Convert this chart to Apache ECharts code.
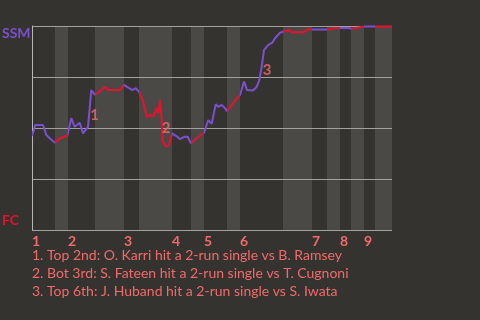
<!DOCTYPE html>
<html><head><meta charset="utf-8">
<script src="https://cdn.jsdelivr.net/npm/echarts@6/dist/echarts.min.js"></script>
<style>html,body{margin:0;padding:0;background:#353330;}#c{width:480px;height:320px;}</style>
</head><body><div id="c"></div>
<script>
// half-inning boundaries along the game-progress axis (top1, bot1, top2, ...)
const halfInningStarts = [0,23,36,63,92,107,140,159,172,195,208,251,280,295,308,319,332,343,360];
const inningLabels = ['1','2','3','4','5','6','7','8','9'];
const teamTop = 'SSM';
const teamBottom = 'FC';
// game progress and SSM win probability
const progress = [0,3.3,11,14.3,17.7,23,27.7,35.3,36,39.3,42.7,47.7,51,56,59.3,63,68,73,76.3,88,92,96.3,100.3,103.7,107,110.7,114.7,118,121.3,124.7,126.3,128,129.7,130.7,134.7,137,140,145.3,148,152.3,155.7,159,164.7,172,176.3,179.7,183.7,186.3,189.7,192.3,195,202.3,208,212,215,221,224.7,227.3,229.7,232,236.3,240.3,243,248,251,256.3,259.7,271.3,276.3,280,295,299.7,303,308,316.3,317.3,319.7,328,329.7,332,343,359,360];
const ssmWinProb = [0.461,0.515,0.515,0.466,0.450,0.428,0.450,0.462,0.465,0.548,0.506,0.526,0.474,0.506,0.686,0.662,0.680,0.702,0.686,0.686,0.711,0.698,0.686,0.695,0.678,0.637,0.555,0.564,0.555,0.597,0.572,0.637,0.531,0.433,0.408,0.417,0.474,0.457,0.445,0.457,0.457,0.425,0.450,0.477,0.539,0.520,0.616,0.604,0.613,0.601,0.583,0.629,0.662,0.728,0.686,0.684,0.702,0.735,0.800,0.882,0.907,0.918,0.940,0.967,0.972,0.980,0.969,0.969,0.984,0.983,0.983,0.987,0.990,0.990,0.990,0.985,0.987,0.994,0.999,0.998,0.998,0.998,1.0];
const eventNumbers = ['1','2','3'];
const eventX = [62.5,134,235];
const eventProb = [0.564,0.5,0.784];
const eventTexts = [
  '1. Top 2nd: O. Karri hit a 2-run single vs B. Ramsey',
  '2. Bot 3rd: S. Fateen hit a 2-run single vs T. Cugnoni',
  '3. Top 6th: J. Huband hit a 2-run single vs S. Iwata'
];

const PURPLE = '#7b4fd0', RED = '#e8112d', SALMON = '#f26a6a';
const FONT = 'Lato, Roboto, sans-serif';

const inningStarts = halfInningStarts.filter((v,i)=>i%2===0 && i<halfInningStarts.length-1);
const pieces = [];
const bands = [];
for (let i=0;i<halfInningStarts.length-1;i++){
  const a = halfInningStarts[i], b = halfInningStarts[i+1];
  const p = {gte:a, color: i%2===0 ? PURPLE : RED};
  if (i===halfInningStarts.length-2) p.lte=b; else p.lt=b;
  pieces.push(p);
  if (i%2===1) bands.push([{xAxis:a},{xAxis:b}]);
}

const graphics = [
  {type:'text',left:2,top:26,style:{text:teamTop,fill:PURPLE,font:'bold 14px '+FONT}},
  {type:'text',left:2,top:213,style:{text:teamBottom,fill:RED,font:'bold 14px '+FONT}}
];
eventTexts.forEach((t,i)=>graphics.push({type:'text',left:32,top:248+18*i,
  style:{text:t,fill:SALMON,font:'14px '+FONT}}));

const chart = echarts.init(document.getElementById('c'));
chart.setOption({
  backgroundColor:'#353330',
  animation:false,
  grid:{left:32,right:88,top:26,bottom:90},
  xAxis:{type:'value',min:0,max:360,
    axisLine:{show:false},axisTick:{show:false},splitLine:{show:false},
    axisLabel:{customValues:inningStarts,align:'left',margin:4,color:SALMON,fontWeight:'bold',fontSize:14,fontFamily:FONT,
      formatter:v=>inningLabels[inningStarts.indexOf(v)]}},
  yAxis:{type:'value',min:0,max:1,interval:0.25,z:3,
    axisLine:{show:true,lineStyle:{color:'#b8b6b2',width:1}},axisTick:{show:false},axisLabel:{show:false},
    splitLine:{show:true,lineStyle:{color:'#a3a19e',width:1}}},
  visualMap:{show:false,type:'piecewise',dimension:0,seriesIndex:1,pieces:pieces},
  graphic:graphics,
  series:[
    {type:'line',z:1,data:[[0,0]],symbol:'none',lineStyle:{opacity:0},silent:true,
      markArea:{silent:true,itemStyle:{color:'#4b4946'},data:bands}},
    {type:'line',z:5,data:progress.map((x,i)=>[x,ssmWinProb[i]]),symbol:'none',lineStyle:{width:2}},
    {type:'scatter',z:6,symbolSize:0,data:eventX.map((x,i)=>[x,eventProb[i]]),
      label:{show:true,position:'inside',color:SALMON,fontWeight:'bold',fontSize:15,fontFamily:FONT,
        formatter:p=>eventNumbers[p.dataIndex]}}
  ]
});
</script></body></html>
